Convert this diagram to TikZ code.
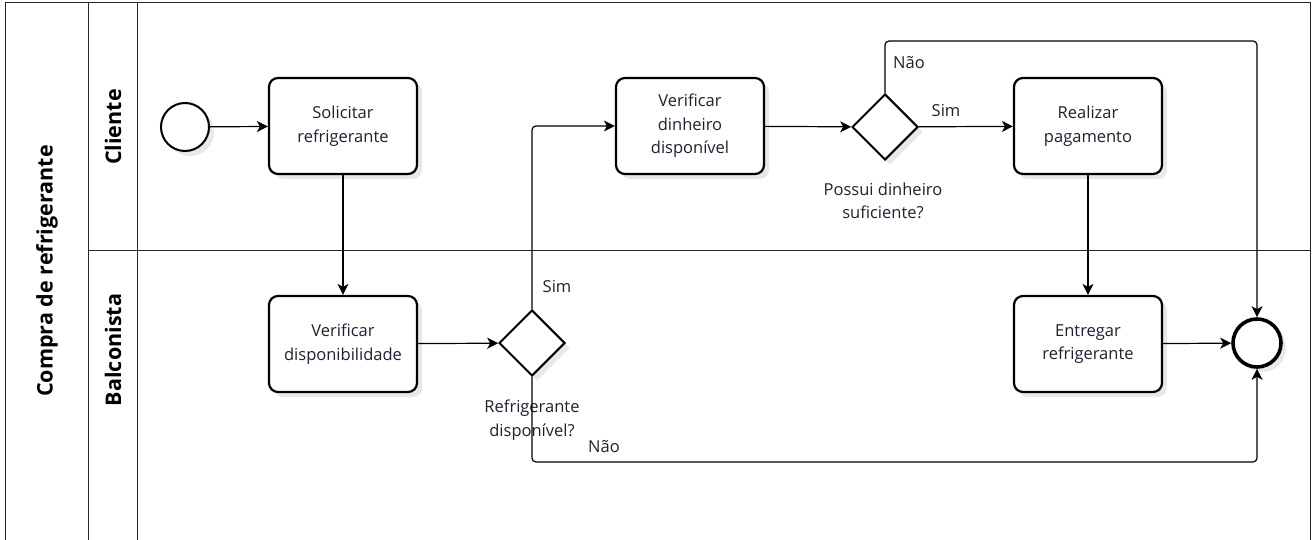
\documentclass[tikz,border=0pt]{standalone}
\usepackage{fontspec}
\setmainfont{Open Sans}
\usetikzlibrary{arrows.meta,shadows,shapes.geometric}
\definecolor{txt}{HTML}{202030}
\begin{document}
\begin{tikzpicture}[x=1pt,y=-1pt,
  task/.style={draw, line width=2.2pt, rounded corners=9pt, minimum width=148pt, minimum height=96pt,
    align=center, inner sep=0pt, font=\fontsize{16.5}{23.5}\selectfont, text=txt, fill=white,
    drop shadow={opacity=0.18, shadow xshift=5pt, shadow yshift=-5pt}},
  gw/.style={draw, diamond, line width=2pt, minimum width=66pt, minimum height=66pt, inner sep=0pt, fill=white,
    drop shadow={opacity=0.18, shadow xshift=5pt, shadow yshift=-5pt}},
  startev/.style={draw, circle, line width=2pt, minimum size=48pt, inner sep=0pt, fill=white,
    drop shadow={opacity=0.18, shadow xshift=5pt, shadow yshift=-5pt}},
  endev/.style={draw, circle, line width=3.6pt, minimum size=48pt, inner sep=0pt, fill=white,
    drop shadow={opacity=0.18, shadow xshift=5pt, shadow yshift=-5pt}},
  flow/.style={line width=1.2pt, -{Stealth[length=11pt, width=11pt, inset=3pt]}, rounded corners=4pt},
  lbl/.style={font=\fontsize{16.5}{23.5}\selectfont, text=txt, align=center, inner sep=0pt},
  lane/.style={font=\bfseries\fontsize{21.5}{24}\selectfont, rotate=90, inner sep=0pt},
  frame/.style={line width=1pt, draw=black!85}]
\useasboundingbox (0,0) rectangle (1312,540);
\fill[white] (0,0) rectangle (1312,540);
% pool and lanes
\draw[frame] (5,540) -- (5,3) -- (1310,3) -- (1310,540);
\draw[frame] (88,3) -- (88,540);
\draw[frame] (137,3) -- (137,540);
\draw[frame] (88,251) -- (1310,251);
\node[lane] (pool) at (47,271) {Compra de refrigerante};
\node[lane] (lc) at (113,127) {Cliente};
\node[lane] (lb) at (113,350) {Balconista};
% nodes
\node[startev] (start) at (185,127) {};
\node[task] (t1) at (343,126) {Solicitar\\refrigerante};
\node[task] (t2) at (343,344) {Verificar\\disponibilidade};
\node[gw] (g1) at (532,343) {};
\node[task] (t3) at (690,126) {Verificar\\dinheiro\\disponível};
\node[gw] (g2) at (885,127) {};
\node[task] (t4) at (1088,126) {Realizar\\pagamento};
\node[task] (t5) at (1088,344) {Entregar\\refrigerante};
\node[endev] (end) at (1257,343) {};
\coordinate (ctop) at (1257,41);
\coordinate (cbot) at (1257,462);
% labels
\node[lbl] (lg1) at (532,420) {Refrigerante\\disponível?};
\node[lbl] (lg2) at (883,201) {Possui dinheiro\\suficiente?};
\node[lbl] (s1) at (557,287) {Sim};
\node[lbl] (n1) at (604,447) {Não};
\node[lbl] (s2) at (946,111) {Sim};
\node[lbl] (n2) at (909,63) {Não};
% flows
\draw[flow] (start) -- (t1);
\draw[flow] (t1) -- (t2);
\draw[flow] (t2) -- (g1);
\draw[flow] (g1.north) |- (t3.west);
\draw[flow] (t3) -- (g2);
\draw[flow] (g2) -- (t4);
\draw[flow] (g2.north) |- (ctop) -- (end.north);
\draw[flow] (g1.south) |- (cbot) -- (end.south);
\draw[flow] (t4) -- (t5);
\draw[flow] (t5) -- (end);
\end{tikzpicture}
\end{document}
